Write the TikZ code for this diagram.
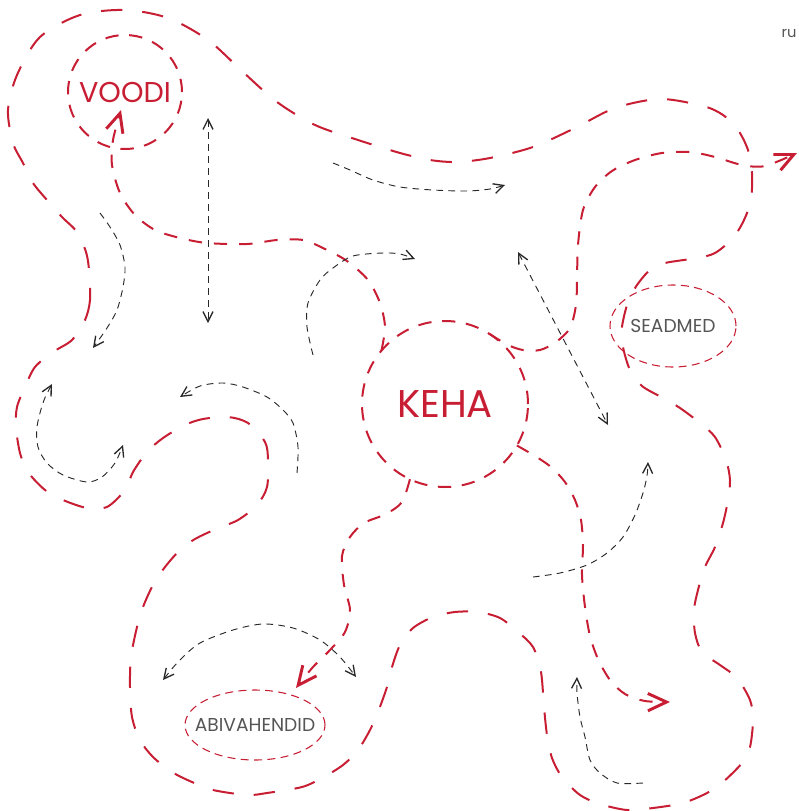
\documentclass[tikz,border=0pt]{standalone}
\usepackage{fontspec}
\setmainfont{Poppins}
\usepackage{tikz}
\usetikzlibrary{shapes,arrows,arrows.meta}
\definecolor{bodyred}{RGB}{200,30,52}
\definecolor{hintgrey}{RGB}{40,40,40}
\definecolor{textgrey}{RGB}{85,85,85}
\tikzstyle{redtip} = [-{Straight Barb[length=14pt,width=13pt,line width=2.2pt]}]
\tikzstyle{wander} = [draw=bodyred, line width=1.5pt, dash pattern=on 16pt off 15pt]
\tikzstyle{flow} = [draw=bodyred, line width=1.5pt, dash pattern=on 10pt off 9pt, redtip]
\tikzstyle{hint} = [draw=hintgrey, line width=0.7pt, dash pattern=on 5pt off 4pt,
    -{Straight Barb[length=7.5pt,width=7.5pt,line width=1pt]}]
\tikzstyle{twoway} = [hint,
    {Straight Barb[length=7.5pt,width=7.5pt,line width=1pt]}-{Straight Barb[length=7.5pt,width=7.5pt,line width=1pt]}]
\tikzstyle{core} = [
    circle, draw=bodyred, line width=1.5pt, dash pattern=on 10pt off 8pt,
    inner sep=0pt, outer sep=0pt, text=bodyred]
\tikzstyle{aid} = [
    ellipse, draw=bodyred, line width=0.8pt, dash pattern=on 6pt off 4pt,
    inner sep=0pt, outer sep=0pt, text=textgrey, font=\fontsize{14}{16}\selectfont]

\begin{document}
\begin{tikzpicture}[x=0.75pt, y=-0.75pt]
\useasboundingbox (0,0) rectangle (799,811);

\node (keha) [core, minimum size=124.5pt, font=\fontsize{29}{30}\selectfont] at (445,404) {KEHA};
\node (voodi) [core, minimum size=85.5pt, font=\fontsize{21.5}{23}\selectfont] at (125,92) {VOODI};
\node (seadmed) [aid, minimum width=94.5pt, minimum height=61.5pt] at (673,326) {SEADMED};
\node (abivahendid) [aid, minimum width=105pt, minimum height=52.5pt] at (255,725) {\makebox[0pt]{ABIVAHENDID}};
\node (lang) [font=\fontsize{11}{12}\selectfont, text=textgrey] at (789,33) {ru};

\draw [wander] plot [smooth cycle] coordinates {
    (89,270) (90,300) (85,320) (72,340) (53,352) (35,367) (25,387) (17,407) (16,427)
    (20,453) (28,472) (45,490) (63,500) (87,508) (107,507) (125,490) (133,472) (147,452)
    (163,438) (185,425) (203,419) (228,417) (248,423) (265,442) (268,460) (267,487)
    (257,505) (238,520) (216,529) (195,539) (180,550) (165,567) (153,585) (143,607)
    (137,627) (131,657) (130,687) (132,717) (140,740) (153,757) (172,772) (192,782)
    (213,790) (247,795) (267,793) (302,787) (322,778) (343,765) (358,750) (370,730)
    (378,712) (387,687) (392,667) (400,645) (413,628) (433,617) (455,612) (478,612)
    (500,618) (518,632) (533,647) (541,672) (544,707) (547,735) (552,758) (562,777)
    (580,795) (600,804) (627,810) (653,808) (683,803) (707,793) (723,782) (742,763)
    (750,747) (753,720) (750,700) (737,678) (720,665) (702,652) (695,633) (694,610)
    (698,590) (705,567) (715,547) (723,523) (728,500) (730,480) (726,460) (715,437)
    (700,423) (680,408) (663,398) (642,386) (630,370) (623,347) (622,327) (628,302)
    (637,285) (650,270) (665,263) (697,258) (715,253) (733,238) (744,220) (751,200)
    (752,173) (748,150) (738,130) (723,115) (703,106) (660,99) (615,108) (575,128)
    (533,147) (490,158) (457,162) (430,160) (400,153) (358,140) (315,125) (277,102)
    (243,72) (208,40) (168,18) (125,10) (80,15) (40,37) (17,75) (8,110) (13,143)
    (23,163) (33,183) (47,200) (62,217) (77,232) (86,252)};

\draw [flow] plot [smooth] coordinates {(keha.140) (385,327) (380,303) (368,280) (347,261)
    (325,249) (303,240) (277,240) (247,244) (207,243) (180,238) (155,230) (135,215)
    (120,193) (112,165) (113,140) (121,110)};
\draw [flow] plot [smooth] coordinates {(keha.58) (508,345) (523,350) (540,350) (556,342)
    (570,328) (576,305) (577,280) (578,245) (583,210) (595,187) (612,171) (635,160)
    (662,153) (690,152) (715,157) (742,165) (765,166) (797,153)};
\draw [flow] plot [smooth] coordinates {(keha.245) (402,502) (386,514) (364,523) (350,537)
    (342,556) (344,585) (350,610) (345,632) (330,650) (313,667) (296,688)};
\draw [flow] plot [smooth] coordinates {(keha.-30) (535,456) (551,467) (565,482) (575,500)
    (581,520) (583,545) (582,575) (585,607) (590,636) (598,659) (610,680) (625,694)
    (645,701) (670,702)};

\coordinate (lift-top) at (208,118);
\coordinate (lift-bottom) at (208,323);
\coordinate (slope-top) at (518,252);
\coordinate (slope-bottom) at (608,425);

\draw [twoway] (lift-top) -- (lift-bottom);
\draw [twoway] (slope-top) -- (slope-bottom);
\draw [hint] plot [smooth] coordinates {(333,163) (350,170) (373,180) (400,187) (433,190)
    (467,191) (490,189) (505,185)};
\draw [hint] plot [smooth] coordinates {(100,213) (110,227) (120,245) (125,267) (123,287)
    (117,310) (107,328) (93,348)};
\draw [twoway] plot [smooth] coordinates {(52,384) (43,403) (37,427) (38,447) (47,463)
    (63,475) (87,482) (102,477) (115,463) (123,445)};
\draw [hint] plot [smooth] coordinates {(297,473) (298,447) (293,423) (283,410) (267,397)
    (243,387) (223,383) (200,386) (180,397)};
\draw [hint] plot [smooth] coordinates {(313,355) (307,327) (308,303) (320,280) (333,268)
    (353,256) (383,253) (400,254) (415,259)};
\draw [hint] plot [smooth] coordinates {(533,577) (560,573) (587,565) (607,553) (623,537)
    (635,515) (643,493) (647,476) (648,462)};
\draw [twoway] plot [smooth] coordinates {(163,680) (180,660) (200,643) (233,630) (263,624)
    (293,628) (320,640) (340,657) (356,677)};
\draw [hint] plot [smooth] coordinates {(643,783) (617,783) (600,773) (590,760) (585,737)
    (580,717) (577,693) (577,677)};
\end{tikzpicture}
\end{document}
